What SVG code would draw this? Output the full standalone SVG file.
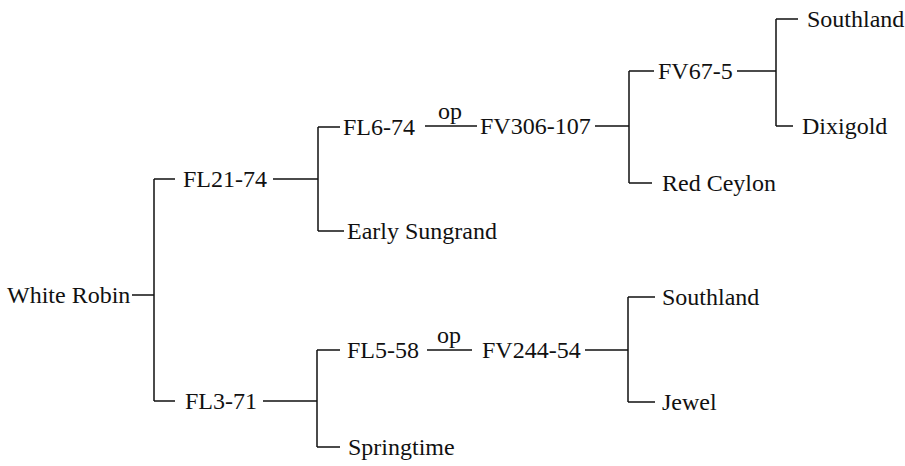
<svg xmlns="http://www.w3.org/2000/svg" width="905" height="466" viewBox="0 0 905 466">
<style>
text{font-size:24px;fill:#111}
.c path{fill:none;stroke:#111;stroke-width:1.5}
</style>
<rect width="905" height="466" fill="#fff"/>
<g font-family="Liberation Serif, Tinos, DejaVu Serif, serif">
<g class="c" id="connectors">
<path d="M132 295H154M154 179V401M154 179H175M154 401H175"/>
<path d="M273 179H318M318 127V231M318 127H340M318 231H344"/>
<path d="M263 401H317M317 350V447M317 350H340M317 447H340"/>
<path d="M425 126H477"/>
<path d="M427 350H472"/>
<path d="M595 126H629M629 71V183M629 71H654M629 183H652"/>
<path d="M585 350H628M628 297V402M628 297H655M628 402H655"/>
<path d="M737 71H776M776 19V126M776 19H798M776 126H793"/>
<text x="450" y="119" text-anchor="middle">op</text>
<text x="449" y="343" text-anchor="middle">op</text>
</g>
<g id="n-white-robin"><text x="7" y="303">White Robin</text></g>
<g id="n-fl21-74"><text x="183" y="187">FL21-74</text></g>
<g id="n-fl3-71"><text x="185" y="409">FL3-71</text></g>
<g id="n-fl6-74"><text x="343" y="135">FL6-74</text></g>
<g id="n-early-sungrand"><text x="347" y="239">Early Sungrand</text></g>
<g id="n-fl5-58"><text x="347" y="358">FL5-58</text></g>
<g id="n-springtime"><text x="348" y="455">Springtime</text></g>
<g id="n-fv306-107"><text x="480" y="134">FV306-107</text></g>
<g id="n-fv244-54"><text x="482" y="358">FV244-54</text></g>
<g id="n-fv67-5"><text x="658" y="79">FV67-5</text></g>
<g id="n-red-ceylon"><text x="662" y="191">Red Ceylon</text></g>
<g id="n-southland-1"><text x="807" y="27">Southland</text></g>
<g id="n-dixigold"><text x="802" y="134">Dixigold</text></g>
<g id="n-southland-2"><text x="662" y="305">Southland</text></g>
<g id="n-jewel"><text x="662" y="410">Jewel</text></g>
</g>
</svg>
